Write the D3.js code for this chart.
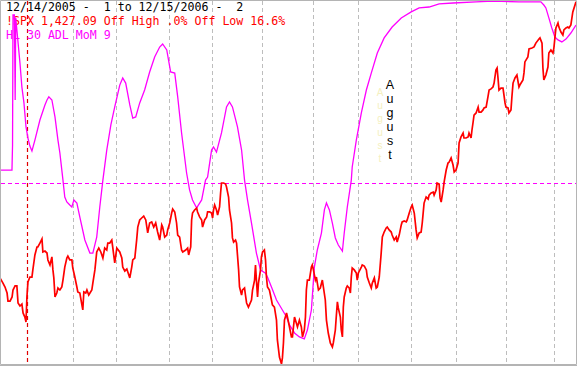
<!DOCTYPE html>
<html><head><meta charset="utf-8">
<script src="https://cdn.jsdelivr.net/npm/d3@7/dist/d3.min.js"></script>
<style>html,body{margin:0;padding:0;background:#fff;overflow:hidden}</style>
</head><body><svg id="c" width="577" height="366"></svg>
<script>
// ---- data (x in trading sessions since 12/14/2005) ----
const headerLines = ["12/14/2005 -  1 to 12/15/2006 -  2", "!SPX 1,427.09 Off High .0% Off Low 16.6%", "HL 30 ADL MoM 9"];
const headerColors = ["#000000", "#ff0000", "#ff00ff"];
const yearStart = 12;               // first session of 2006
const monthStarts = [32, 51, 74, 93, 115, 137, 157, 180, 200, 222, 243];
const annotation = "August";
const zeroLevel = 0;

const spx = [[0,1271.8],[1.3,1268.9],[2.2,1266.7],[3.1,1263.3],[3.5,1258.8],[4.4,1258.8],[5.3,1261.1],[5.7,1265.0],[6.6,1267.3],[7.4,1267.3],[7.9,1257.7],[8.75,1256.0],[9.6,1257.1],[10.1,1252.1],[10.9,1249.8],[11.4,1247.0],[11.8,1261.1],[12.25,1269.5],[13.1,1272.3],[14.0,1272.3],[14.4,1276.3],[15.3,1284.7],[16.2,1289.2],[16.6,1289.2],[17.5,1291.4],[18.4,1293.7],[18.8,1286.4],[19.7,1286.9],[20.6,1285.8],[21.0,1281.9],[21.9,1279.1],[22.75,1283.6],[23.2,1276.3],[23.6,1271.8],[24.1,1261.1],[24.9,1263.3],[25.4,1266.1],[26.25,1265.0],[27.1,1266.7],[27.6,1270.6],[28.4,1277.9],[29.3,1283.0],[29.75,1284.1],[30.6,1281.9],[31.5,1281.9],[31.9,1277.4],[32.8,1272.3],[33.7,1266.7],[34.1,1263.9],[35.0,1263.3],[35.9,1256.6],[36.3,1253.8],[36.75,1263.9],[37.6,1263.3],[38.1,1265.0],[38.9,1262.2],[40.25,1265.0],[40.7,1268.9],[41.6,1276.3],[42.4,1286.4],[43.3,1288.6],[44.2,1286.4],[45.1,1283.0],[45.9,1288.6],[46.8,1287.5],[47.25,1291.4],[48.1,1291.4],[49.0,1293.1],[49.4,1289.2],[50.3,1280.2],[51.2,1288.6],[52.5,1286.4],[53.4,1283.0],[53.8,1277.9],[54.7,1275.7],[55.6,1276.8],[56.9,1271.8],[57.75,1277.9],[58.2,1281.9],[59.1,1283.0],[59.9,1293.1],[60.4,1300.4],[61.25,1304.4],[62.1,1305.5],[63.0,1306.6],[63.9,1304.4],[64.75,1297.1],[65.6,1302.7],[66.5,1303.3],[67.4,1300.4],[68.25,1302.7],[69.1,1297.6],[70.0,1293.1],[70.9,1301.6],[71.3,1300.4],[72.2,1294.8],[73.1,1295.9],[73.5,1298.8],[74.4,1302.7],[75.25,1308.3],[75.7,1310.6],[76.6,1308.9],[77.4,1302.7],[77.9,1295.9],[78.75,1294.8],[79.6,1287.5],[80.1,1286.4],[81.4,1287.5],[82.25,1288.6],[82.7,1284.7],[83.6,1289.2],[84.0,1304.4],[84.4,1308.3],[85.3,1310.0],[86.2,1311.1],[86.6,1308.9],[87.5,1306.1],[88.4,1304.4],[88.8,1300.4],[89.7,1304.4],[90.6,1306.1],[91.0,1308.9],[91.9,1308.9],[92.75,1308.3],[93.2,1305.5],[93.6,1310.0],[94.1,1312.8],[94.9,1310.0],[95.4,1307.2],[96.25,1311.7],[96.7,1319.6],[97.1,1325.2],[98.0,1325.2],[98.9,1324.6],[99.3,1322.9],[100.2,1317.3],[100.6,1310.0],[101.5,1302.7],[101.9,1294.3],[102.4,1292.0],[103.25,1293.1],[103.7,1291.4],[104.6,1276.3],[105.0,1266.7],[105.9,1262.2],[106.3,1265.0],[107.2,1266.1],[107.6,1262.2],[108.1,1257.7],[108.9,1255.4],[110.25,1259.4],[110.7,1265.0],[111.6,1270.6],[112.0,1279.1],[112.4,1270.6],[112.9,1261.1],[113.3,1268.9],[114.2,1276.3],[114.6,1283.6],[115.1,1286.4],[115.9,1287.5],[116.4,1281.9],[116.8,1272.3],[117.25,1266.7],[118.1,1265.0],[119.0,1259.4],[119.4,1256.6],[120.3,1255.4],[121.2,1248.1],[121.6,1236.9],[122.5,1227.3],[123.4,1223.4],[123.8,1226.8],[124.25,1235.2],[124.7,1248.1],[125.6,1252.1],[126.0,1249.8],[126.9,1244.2],[127.75,1238.6],[128.2,1238.6],[129.1,1249.8],[129.9,1246.4],[130.4,1244.2],[131.25,1248.1],[132.1,1244.2],[132.6,1238.6],[133.4,1242.5],[133.9,1249.8],[134.3,1265.0],[134.75,1270.6],[135.6,1270.6],[136.5,1277.9],[136.9,1279.1],[137.4,1276.3],[138.25,1270.6],[138.7,1272.3],[139.6,1265.0],[140.4,1266.1],[141.3,1270.6],[141.75,1266.7],[142.6,1259.4],[143.1,1248.1],[143.9,1240.8],[144.8,1235.2],[145.7,1232.9],[146.1,1235.2],[147.0,1242.5],[147.4,1249.8],[147.9,1258.3],[148.3,1254.9],[149.2,1249.8],[149.6,1242.5],[150.1,1238.6],[150.5,1255.4],[150.9,1261.1],[151.8,1266.1],[152.25,1267.3],[153.1,1266.1],[153.6,1263.3],[154.0,1272.3],[154.4,1277.4],[155.3,1276.3],[156.2,1274.6],[156.6,1270.6],[157.1,1274.6],[158.4,1277.9],[158.8,1279.1],[159.7,1278.5],[160.6,1276.3],[161.0,1272.3],[161.9,1268.9],[162.75,1266.1],[163.2,1268.9],[164.1,1271.8],[164.9,1266.1],[165.4,1266.7],[166.25,1272.3],[167.1,1285.8],[167.6,1294.8],[168.4,1297.6],[169.3,1299.9],[169.75,1300.4],[170.6,1298.8],[171.5,1297.6],[171.9,1295.9],[172.8,1293.1],[173.7,1294.8],[174.1,1292.0],[175.0,1295.9],[175.9,1301.6],[176.3,1303.3],[177.2,1303.8],[178.1,1303.3],[178.5,1304.4],[179.4,1308.3],[180.25,1311.7],[180.7,1312.8],[181.6,1308.3],[182.4,1298.8],[182.9,1294.3],[183.75,1297.1],[184.6,1297.6],[185.1,1302.7],[185.9,1313.9],[186.8,1317.3],[187.7,1316.2],[188.1,1318.4],[189.0,1319.6],[189.9,1320.1],[190.3,1318.4],[191.2,1321.3],[191.6,1325.2],[192.5,1324.6],[192.9,1316.8],[193.4,1314.5],[194.25,1321.3],[194.7,1325.8],[195.6,1332.5],[196.4,1336.4],[196.9,1337.0],[197.75,1339.3],[198.6,1335.3],[199.1,1331.4],[199.9,1332.5],[200.8,1336.4],[201.25,1347.7],[202.1,1351.1],[203.0,1353.3],[203.4,1350.5],[204.3,1350.5],[205.2,1351.1],[205.6,1353.3],[206.5,1350.5],[206.9,1355.0],[207.4,1359.5],[207.8,1363.4],[208.7,1364.6],[209.6,1367.9],[210.0,1365.1],[210.9,1365.1],[211.75,1366.3],[212.2,1367.4],[213.1,1367.9],[213.9,1373.6],[214.4,1377.5],[215.25,1378.1],[216.1,1379.2],[216.6,1381.4],[217.4,1388.8],[217.9,1389.9],[218.3,1384.3],[218.75,1377.5],[219.6,1378.6],[220.5,1378.6],[221.4,1370.2],[221.8,1367.9],[222.7,1367.4],[223.1,1364.6],[224.0,1366.3],[224.4,1373.6],[224.9,1381.4],[225.75,1384.3],[226.6,1385.9],[227.5,1379.2],[227.9,1380.3],[229.25,1383.1],[229.7,1387.1],[230.1,1393.3],[231.4,1396.1],[231.9,1400.6],[233.2,1401.1],[234.1,1401.7],[234.9,1403.9],[236.25,1406.2],[236.7,1406.8],[237.6,1403.9],[238.0,1389.9],[238.4,1383.1],[239.3,1385.9],[240.2,1390.4],[240.6,1398.3],[241.5,1400.0],[242.4,1398.3],[242.8,1401.1],[243.25,1406.8],[243.7,1412.4],[244.6,1415.2],[245.0,1412.9],[245.9,1410.1],[246.75,1408.4],[247.2,1411.3],[248.1,1412.4],[248.9,1412.9],[249.4,1412.4],[250.25,1414.1],[251.1,1421.4],[252.5,1427.1]];

const adlMom = [[0,7.1],[5.25,7.1],[5.5,20.9],[5.7,92.3],[6.3,92.3],[6.65,45.6],[6.9,90.7],[7.4,84.1],[8.75,65.9],[9.6,52.7],[10.5,44.0],[11.4,30.8],[12.25,24.7],[13.1,20.3],[14.0,17.6],[15.3,23.6],[17.5,34.6],[19.7,42.9],[20.6,45.6],[21.4,47.3],[22.75,45.6],[24.1,36.3],[25.4,23.6],[26.25,16.5],[27.6,1.6],[28.4,-7.7],[29.3,-10.4],[30.6,-12.1],[31.5,-13.2],[32.4,-9.3],[33.7,-11.0],[35.0,-18.7],[37.2,-31.3],[39.4,-38.5],[40.7,-38.5],[42.4,-29.7],[43.75,-13.2],[45.1,1.6],[46.8,18.1],[48.6,31.9],[50.3,41.8],[52.5,53.8],[53.8,57.7],[55.1,54.9],[56.9,42.9],[58.2,35.7],[59.5,36.3],[61.25,44.0],[63.4,51.1],[65.6,61.0],[67.8,69.2],[70.0,74.7],[71.3,76.4],[73.1,73.1],[74.8,61.0],[76.6,60.4],[77.9,47.3],[79.6,27.5],[81.8,5.5],[83.1,-3.8],[84.4,-9.3],[86.2,-13.7],[88.4,-9.3],[90.1,1.6],[91.0,3.3],[92.75,18.1],[93.6,19.8],[94.9,17.0],[97.1,27.5],[99.3,41.8],[100.6,44.5],[101.9,41.8],[104.1,30.8],[105.9,18.1],[107.2,1.6],[108.5,-9.3],[110.25,-22.0],[112.4,-38.5],[114.2,-47.8],[116.4,-49.5],[117.25,-51.6],[119.0,-57.1],[121.2,-64.3],[123.8,-69.8],[125.6,-73.6],[126.9,-78.0],[129.1,-82.4],[131.25,-84.6],[133.4,-85.7],[134.75,-80.8],[136.5,-69.8],[137.8,-46.2],[139.1,-36.8],[140.9,-27.5],[142.2,-14.8],[143.1,-11.0],[144.4,-14.8],[145.7,-22.0],[147.0,-30.2],[148.3,-34.1],[150.1,-37.4],[150.9,-27.5],[152.25,-13.2],[154.0,1.6],[154.4,8.8],[156.2,23.6],[158.4,38.5],[160.6,51.1],[162.75,60.4],[165.4,71.4],[168.4,79.7],[171.9,85.7],[175.9,90.7],[180.25,94.0],[183.75,96.2],[188.1,96.7],[192.5,98.4],[198.6,98.9],[208.7,99.5],[216.1,100],[227.5,99.5],[237.1,99.5],[238.4,97.8],[239.3,96.2],[240.6,90.7],[241.9,85.2],[243.25,80.2],[244.6,78.6],[246.3,77.5],[248.1,79.1],[250.25,82.4],[252.5,86.8]];

// ---- drawing ----
const W = 577, H = 366;
const svg = d3.select("#c");
const plotR = 576, plotB = 364;

const x = d3.scaleLinear().domain([0, 252.5]).range([0, plotR]);
const ySpx = d3.scaleLinear().domain([1224, 1427]).range([362.9, 2]);
const yAdl = d3.scaleLinear().domain([-100, 100]).range([365, 1]);

svg.append("rect").attr("width", W).attr("height", H).attr("fill", "#fff");

svg.append("defs").append("clipPath").attr("id", "clip")
  .append("rect").attr("x", 1).attr("y", 1).attr("width", plotR - 1).attr("height", plotB - 1);

// month gridlines
svg.append("g").selectAll("line").data(monthStarts).join("line")
  .attr("x1", d => Math.round(x(d)) + 0.5).attr("x2", d => Math.round(x(d)) + 0.5)
  .attr("y1", 1).attr("y2", plotB)
  .attr("stroke", "#bdbdbd").attr("stroke-width", 1).attr("stroke-dasharray", "4,3");

// year line
svg.append("line")
  .attr("x1", Math.round(x(yearStart)) + 0.5).attr("x2", Math.round(x(yearStart)) + 0.5)
  .attr("y1", 1).attr("y2", plotB)
  .attr("stroke", "#e00000").attr("stroke-width", 1.2).attr("stroke-dasharray", "4,3");

// zero line of indicator
svg.append("line")
  .attr("x1", 1).attr("x2", plotR)
  .attr("y1", Math.round(yAdl(zeroLevel)) + 0.5).attr("y2", Math.round(yAdl(zeroLevel)) + 0.5)
  .attr("stroke", "#ff00ff").attr("stroke-width", 1).attr("stroke-dasharray", "4,3");

// header text
svg.append("g").selectAll("text").data(headerLines).join("text")
  .attr("x", 6).attr("y", (d, i) => 11 + i * 14)
  .attr("fill", (d, i) => headerColors[i])
  .style("font-family", "'DejaVu Sans Mono', monospace")
  .style("font-size", "11.6px")
  .style("white-space", "pre")
  .text(d => d);

// August annotation (faint shadow + black letters)
const ann = svg.append("g");
ann.selectAll("text.s").data(annotation.split("")).join("text").attr("class", "s")
  .attr("x", 380).attr("y", (d, i) => 96 + i * 13.2)
  .attr("text-anchor", "middle").attr("fill", "#f4f0c0")
  .style("font-family", "'Liberation Sans', Arial, sans-serif").style("font-size", "10px")
  .text(d => d);
ann.selectAll("text.b").data(annotation.split("")).join("text").attr("class", "b")
  .attr("x", 390).attr("y", (d, i) => 89 + i * 14)
  .attr("text-anchor", "middle").attr("fill", "#000")
  .style("font-family", "'Liberation Sans', Arial, sans-serif").style("font-size", "12.5px")
  .text(d => d);

const g = svg.append("g").attr("clip-path", "url(#clip)");
g.append("path").datum(adlMom)
  .attr("fill", "none").attr("stroke", "#ff00ff").attr("stroke-width", 1.3)
  .attr("d", d3.line().x(d => x(d[0])).y(d => yAdl(d[1])));
g.append("path").datum(spx)
  .attr("fill", "none").attr("stroke", "#ff0000").attr("stroke-width", 1.7)
  .attr("stroke-linejoin", "miter")
  .attr("d", d3.line().x(d => x(d[0])).y(d => ySpx(d[1])));

// frame
svg.append("path")
  .attr("d", `M0.5,${plotB + 0.5} V0.5 H${plotR + 0.5} V${plotB + 0.5} Z`)
  .attr("fill", "none").attr("stroke", "#b4b4b4").attr("stroke-width", 1);
svg.append("path")
  .attr("d", `M0,${plotB + 1.5} H${plotR + 1.5} V0`)
  .attr("fill", "none").attr("stroke", "#b4b4b4").attr("stroke-width", 1);
</script></body></html>
